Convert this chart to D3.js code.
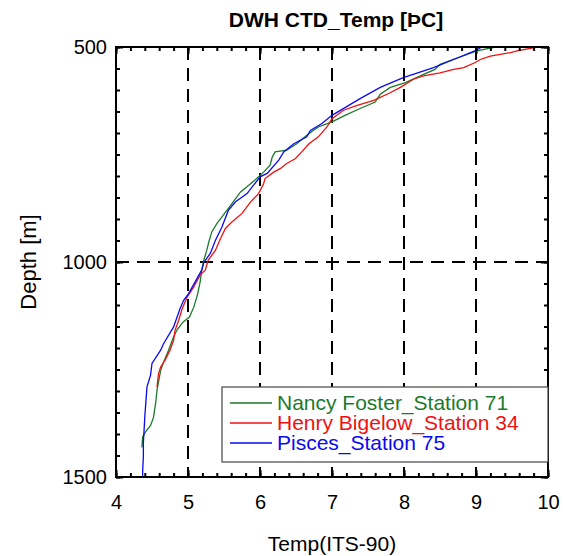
<!DOCTYPE html>
<html>
<head>
<meta charset="utf-8">
<script src="https://cdn.jsdelivr.net/npm/d3@7"></script>
<style>
  html, body { margin: 0; padding: 0; background: #fff; }
  svg { display: block; font-family: Arial, "Liberation Sans", sans-serif; }
</style>
</head>
<body>
<svg id="chart" width="563" height="556"></svg>
<script>
// ---- data ----
const seriesNames = ["Nancy Foster_Station 71", "Henry Bigelow_Station 34", "Pisces_Station 75"];
const seriesColors = ["#1c7a2c", "#ee1111", "#0a0af0"];

const fosterTemp  = [9.27,9.01,8.50,8.43,8.32,8.02,7.81,7.67,7.60,7.39,7.18,7.00,6.81,6.74,6.65,6.51,6.37,6.21,6.17,6.14,6.05,5.98,5.84,5.73,5.61,5.49,5.40,5.33,5.29,5.26,5.22,5.19,5.17,5.13,5.08,5.02,4.93,4.85,4.80,4.73,4.66,4.62,4.57,4.55,4.52,4.48,4.41,4.37,4.36];
const fosterDepth = [500,509,540,552,560,583,594,610,628,643,659,674,686,694,705,725,740,744,756,775,791,802,822,837,864,891,911,930,953,973,996,1020,1045,1077,1105,1128,1140,1157,1174,1205,1233,1252,1298,1329,1362,1380,1395,1407,1431];

const bigelowTemp  = [9.85,9.57,9.48,9.20,9.06,8.99,8.83,8.69,8.50,8.27,8.13,7.95,7.80,7.58,7.35,7.16,7.00,6.93,6.81,6.68,6.58,6.49,6.37,6.28,6.19,6.07,6.05,5.98,5.87,5.75,5.61,5.52,5.45,5.38,5.28,5.24,5.17,5.08,4.99,4.92,4.87,4.82,4.80,4.75,4.68,4.62,4.59,4.57];
const bigelowDepth = [500,509,513,521,529,536,548,552,560,567,575,594,607,624,636,647,667,686,709,725,744,760,771,783,791,806,818,841,860,887,907,922,946,973,996,1019,1030,1058,1081,1108,1136,1159,1182,1205,1229,1244,1260,1291];

const piscesTemp  = [9.08,9.00,8.75,8.41,7.99,7.67,7.39,7.00,6.86,6.70,6.65,6.47,6.33,6.26,6.10,6.00,5.82,5.66,5.56,5.47,5.38,5.31,5.22,5.19,5.01,4.94,4.89,4.80,4.66,4.62,4.50,4.48,4.43,4.41,4.40,4.39,4.38,4.38,4.37,4.37];
const piscesDepth = [500,508,525,548,571,594,620,659,678,694,709,725,744,763,794,802,841,860,880,919,950,980,1001,1019,1073,1089,1108,1151,1190,1205,1236,1263,1291,1337,1360,1391,1420,1453,1488,1498];

const xTickLabels = [4,5,6,7,8,9,10];
const yTickLabels = [500,1000,1500];
const titleText = "DWH CTD_Temp [\u00DEC]";
const xTitle = "Temp(ITS-90)";
const yTitle = "Depth [m]";

// ---- layout ----
const svg = d3.select("#chart");
const L = 116, R = 548, T = 47, B = 477;
const x = d3.scaleLinear().domain([4, 10]).range([L, R]);
const y = d3.scaleLinear().domain([500, 1500]).range([T, B]);

// grid (dashed)
const g = svg.append("g");
g.selectAll("line.vg").data([5,6,7,8,9]).enter().append("line")
  .attr("x1", d => x(d)).attr("x2", d => x(d)).attr("y1", T).attr("y2", B)
  .attr("stroke", "#000").attr("stroke-width", 2).attr("stroke-dasharray", "13,8");
g.selectAll("line.hg").data([1000]).enter().append("line")
  .attr("y1", d => y(d)).attr("y2", d => y(d)).attr("x1", L).attr("x2", R)
  .attr("stroke", "#000").attr("stroke-width", 2).attr("stroke-dasharray", "13,8");

// series
const series = [
  {name: seriesNames[0], color: seriesColors[0], t: fosterTemp, d: fosterDepth},
  {name: seriesNames[1], color: seriesColors[1], t: bigelowTemp, d: bigelowDepth},
  {name: seriesNames[2], color: seriesColors[2], t: piscesTemp, d: piscesDepth}
];
const line = d3.line().x(p => x(p[0])).y(p => y(p[1]));
svg.append("defs").append("clipPath").attr("id", "clip")
  .append("rect").attr("x", L).attr("y", T).attr("width", R - L).attr("height", B - T);
const lg = svg.append("g").attr("clip-path", "url(#clip)");
series.forEach(s => {
  lg.append("path").datum(s.t.map((v, i) => [v, s.d[i]]))
    .attr("d", line).attr("fill", "none").attr("stroke", s.color).attr("stroke-width", 1.3);
});

// axes (ticks inward, on all four sides)
const xMinor = d3.range(4, 10.001, 0.2).map(v => +v.toFixed(2));
const yMinor = d3.range(500, 1500.1, 50);
svg.append("g").attr("transform", `translate(0,${B})`)
  .call(d3.axisBottom(x).tickValues(xMinor).tickSize(-4).tickFormat(""));
svg.append("g").attr("transform", `translate(0,${B})`)
  .call(d3.axisBottom(x).tickValues(xTickLabels).tickSize(-7).tickPadding(18).tickFormat(d3.format("d")));
svg.append("g").attr("transform", `translate(0,${T})`)
  .call(d3.axisTop(x).tickValues(xMinor).tickSize(-4).tickFormat(""));
svg.append("g").attr("transform", `translate(0,${T})`)
  .call(d3.axisTop(x).tickValues(xTickLabels).tickSize(-7).tickFormat(""));
svg.append("g").attr("transform", `translate(${L},0)`)
  .call(d3.axisLeft(y).tickValues(yMinor).tickSize(-4).tickFormat(""));
svg.append("g").attr("transform", `translate(${L},0)`)
  .call(d3.axisLeft(y).tickValues(yTickLabels).tickSize(-7).tickPadding(9).tickFormat(d3.format("d")));
svg.append("g").attr("transform", `translate(${R},0)`)
  .call(d3.axisRight(y).tickValues(yMinor).tickSize(-4).tickFormat(""));
svg.append("g").attr("transform", `translate(${R},0)`)
  .call(d3.axisRight(y).tickValues(yTickLabels).tickSize(-7).tickFormat(""));

svg.selectAll(".domain").remove();
svg.selectAll(".tick line").attr("stroke", "#000").attr("stroke-width", 2);
svg.selectAll(".tick text").attr("font-size", 20).attr("fill", "#000")
  .attr("font-family", "Arial, 'Liberation Sans', sans-serif");

// frame
svg.append("rect").attr("x", L).attr("y", T).attr("width", R - L).attr("height", B - T)
  .attr("fill", "none").attr("stroke", "#000").attr("stroke-width", 2);

// titles
svg.append("text").attr("x", 336).attr("y", 27).attr("text-anchor", "middle")
  .attr("font-size", 21).attr("font-weight", "bold").text(titleText);
svg.append("text").attr("x", 332).attr("y", 551).attr("text-anchor", "middle")
  .attr("font-size", 21).text(xTitle);
svg.append("text").attr("transform", "translate(36,262) rotate(-90)").attr("text-anchor", "middle")
  .attr("font-size", 22).text(yTitle);

// legend
const leg = svg.append("g");
leg.append("rect").attr("x", 222).attr("y", 387).attr("width", 326).attr("height", 75)
  .attr("fill", "#fff").attr("stroke", "#444").attr("stroke-width", 1.2);
series.forEach((s, i) => {
  const yy = 403 + i * 20;
  leg.append("line").attr("x1", 230).attr("x2", 272).attr("y1", yy).attr("y2", yy)
    .attr("stroke", s.color).attr("stroke-width", 1.3);
  leg.append("text").attr("x", 277).attr("y", yy + 7).attr("font-size", 21)
    .attr("fill", s.color).text(s.name);
});
</script>
</body>
</html>
